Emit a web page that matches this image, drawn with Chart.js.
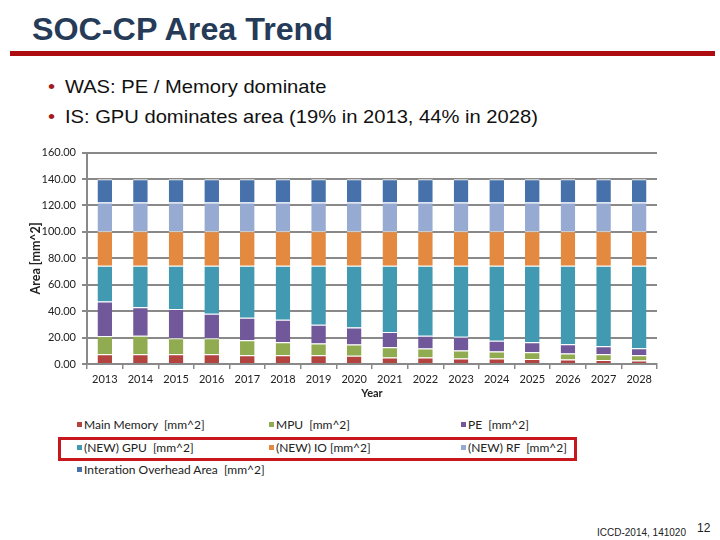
<!DOCTYPE html>
<html>
<head>
<meta charset="utf-8">
<script src="https://cdn.jsdelivr.net/npm/chart.js@4"></script>
<style>
  html, body { margin: 0; padding: 0; background: #fff; }
  body { width: 720px; height: 540px; position: relative; overflow: hidden; font-family: "Liberation Sans", Arial, sans-serif; }
  #title { position: absolute; left: 32px; top: 12px; font-size: 31px; font-weight: bold; color: #263b57; white-space: nowrap;
           transform: scaleX(1.04); transform-origin: left top; }
  #rule { position: absolute; left: 10px; top: 51px; width: 705px; height: 5px; background: #ad0d10; }
  .bullet { position: absolute; left: 48px; font-size: 18.5px; color: #111; white-space: nowrap;
            transform: scaleX(1.09); transform-origin: left top; }
  .bullet span { color: #a51c1c; margin-right: 9px; }
  #chartBox { position: absolute; left: 0; top: 140px; width: 720px; height: 270px; }
  .leg { position: absolute; font-family: Lato, sans-serif; font-size: 12px; color: #222; white-space: pre; line-height: 14px; }
  .leg i { position: absolute; left: -7px; top: 4px; width: 5px; height: 5px; }
  #redBox { position: absolute; left: 58px; top: 437px; width: 513px; height: 18px; border: 3px solid #c8161d; }
  #foot { position: absolute; left: 597px; top: 527px; font-size: 10px; color: #222; }
  #page { position: absolute; left: 697px; top: 521px; font-size: 12px; color: #222; }
</style>
</head>
<body>
<div id="title">SOC-CP Area Trend</div>
<div id="rule"></div>
<div class="bullet" style="top:76px"><span>•</span>WAS: PE / Memory dominate</div>
<div class="bullet" style="top:106px"><span>•</span>IS: GPU dominates area (19% in 2013, 44% in 2028)</div>
<div id="chartBox"><canvas id="areaChart" width="720" height="270"></canvas></div>
<div id="legend"></div>
<div id="redBox"></div>
<div id="foot">ICCD-2014, 141020</div>
<div id="page">12</div>
<script>
// values, mm^2 per block
const years = ['2013','2014','2015','2016','2017','2018','2019','2020',
               '2021','2022','2023','2024','2025','2026','2027','2028'];
const mainMemory = [7.4, 7.4, 7.4, 7.4, 6.7, 6.7, 6.7, 6.2, 5.0, 5.0, 4.2, 4.2, 3.7, 3.5, 3.0, 2.7];
const mpu        = [13.6, 14.0, 12.1, 12.1, 11.3, 9.8, 8.8, 8.6, 7.7, 6.7, 6.0, 5.2, 5.2, 4.4, 4.4, 4.0];
const pe         = [26.3, 21.5, 22.2, 18.5, 17.0, 17.0, 14.3, 12.8, 11.6, 9.6, 10.4, 8.2, 7.5, 7.0, 6.0, 5.2];
const gpu        = [27.1, 31.5, 32.7, 36.4, 39.4, 40.9, 44.6, 46.8, 50.1, 53.1, 53.8, 56.8, 58.0, 59.5, 61.0, 62.5];
const io         = [26.0, 26.0, 26.0, 26.0, 26.0, 26.0, 26.0, 26.0, 26.0, 26.0, 26.0, 26.0, 26.0, 26.0, 26.0, 26.0];
const rf         = [21.8, 21.8, 21.8, 21.8, 21.8, 21.8, 21.8, 21.8, 21.8, 21.8, 21.8, 21.8, 21.8, 21.8, 21.8, 21.8];
const overhead   = [17.6, 17.6, 17.6, 17.6, 17.6, 17.6, 17.6, 17.6, 17.6, 17.6, 17.6, 17.6, 17.6, 17.6, 17.6, 17.6];

const seriesNames = ['Main Memory  [mm^2]', 'MPU  [mm^2]', 'PE  [mm^2]', '(NEW) GPU  [mm^2]',
                     '(NEW) IO [mm^2]', '(NEW) RF  [mm^2]', 'Interation Overhead Area  [mm^2]'];
const seriesData = [mainMemory, mpu, pe, gpu, io, rf, overhead];
const seriesColors = ['#b2433f', '#91ac50', '#71589a', '#4199b2', '#e38a40', '#97aad2', '#4671ab'];

const gridGrey = '#898989';

const ctx = document.getElementById('areaChart').getContext('2d');
const chart = new Chart(ctx, {
    type: 'bar',
    data: {
        labels: years,
        datasets: seriesData.map((d, i) => ({
            label: seriesNames[i],
            data: d,
            backgroundColor: seriesColors[i],
            borderColor: '#ffffff',
            borderWidth: { top: 1, right: 0, bottom: 0, left: 0 },
            borderSkipped: false,
            barPercentage: 0.41,
            categoryPercentage: 1.0
        }))
    },
    options: {
        responsive: false,
        animation: false,
        layout: { padding: { top: 11, left: 22, right: 63, bottom: 6 } },
        plugins: {
            legend: { display: false },
            tooltip: { enabled: false }
        },
        scales: {
            x: {
                stacked: true,
                afterFit: (s) => { s.height = 40; },
                grid: { drawOnChartArea: false, offset: true, tickLength: 5, color: gridGrey, lineWidth: 1.5 },
                border: { color: gridGrey, width: 2 },
                ticks: { color: '#222', padding: 4, font: { family: 'Lato', size: 11 }, maxRotation: 0 },
                title: { display: true, text: 'Year', color: '#222', padding: { top: 0, bottom: 4 },
                         font: { family: 'Lato', size: 11, weight: 'bold' } }
            },
            y: {
                stacked: true,
                min: 0,
                max: 160,
                afterFit: (s) => { s.width = 65; },
                grid: { color: gridGrey, lineWidth: 2, tickLength: 5 },
                border: { color: gridGrey, width: 2 },
                ticks: { stepSize: 20, color: '#222', padding: 6, font: { family: 'Lato', size: 11 },
                         callback: (v) => v.toFixed(2) },
                title: { display: true, text: 'Area [mm^2]', color: '#222', padding: { top: 6, bottom: 2 },
                         font: { family: 'Lato', size: 12.5, weight: 'bold' } }
            }
        }
    }
});

// legend in three columns, like the slide
const legendBox = document.getElementById('legend');
const colX = [84, 276, 468];
const rowY = [418, 441, 463];
chart.data.datasets.forEach((ds, i) => {
    const item = document.createElement('div');
    item.className = 'leg';
    item.style.left = colX[i % 3] + 'px';
    item.style.top = rowY[Math.floor(i / 3)] + 'px';
    item.innerHTML = '<i style="background:' + ds.backgroundColor + '"></i>' + ds.label;
    legendBox.appendChild(item);
});
</script>
</body>
</html>
